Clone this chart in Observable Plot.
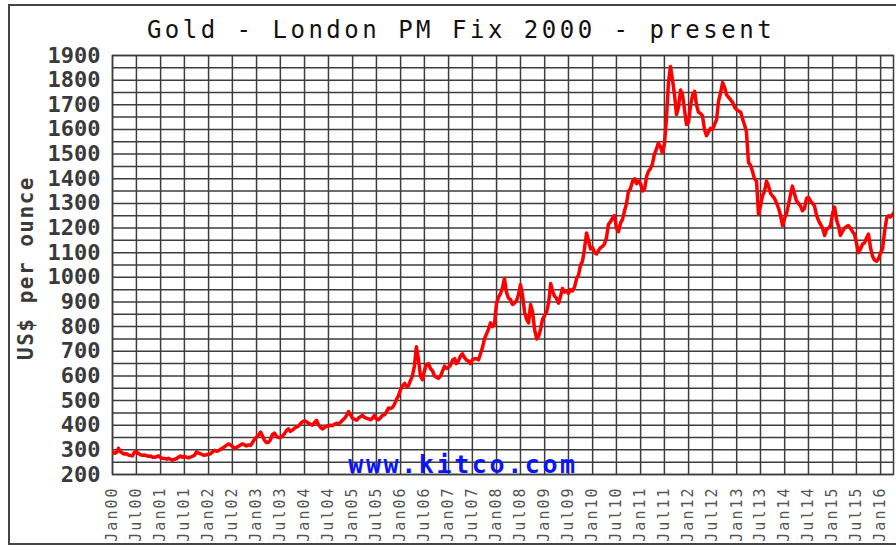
<!DOCTYPE html>
<html><head><meta charset="utf-8">
<script src="https://cdn.jsdelivr.net/npm/d3@7"></script>
<script src="https://cdn.jsdelivr.net/npm/@observablehq/plot@0.6"></script>
<style>
body{margin:0;background:#fff;}
#wrap{position:relative;width:896px;height:545px;overflow:hidden;background:#fff;}
#frame{position:absolute;left:8px;top:4px;width:1000px;height:541px;border:2px solid #444;box-sizing:border-box;pointer-events:none;}
#title{position:absolute;left:0;top:18px;width:922px;text-align:center;font:24px "DejaVu Sans Mono",monospace;letter-spacing:3.5px;line-height:24px;color:#111;white-space:pre;}
#chart{position:absolute;left:0;top:0;width:896px;height:542px;overflow:hidden;}
g[aria-label="y-axis tick label"]{font-family:"DejaVu Sans Mono",monospace;font-weight:bold;font-size:22px;fill:#3a3a3a;}
g[aria-label="x-axis tick label"]{font-family:"DejaVu Sans Mono",monospace;font-size:15px;letter-spacing:2px;fill:#555;}
</style></head>
<body>
<div id="wrap">
  <div id="chart"></div>
  <div id="title">Gold - London PM Fix 2000 - present</div>
  <div id="frame"></div>
</div>
<script>
// Semi-monthly London PM fix values (1st and 16th of each month), US$ per ounce
const p2000 = [292,286,290,306,292,287,283,284,279,277,276,290,294,285,280,278,279,276,274,275,270,270,272,276];
const p2001 = [268,266,265,262,266,262,258,262,264,270,275,270,274,270,268,270,274,278,292,287,284,280,278,280];
const p2002 = [282,284,292,298,294,296,302,306,312,318,324,320,314,306,310,314,320,324,320,316,320,318,330,342];
const p2003 = [352,360,372,355,340,330,330,340,362,368,356,350,350,356,365,378,385,375,380,388,393,396,406,414];
const p2004 = [418,414,408,404,400,410,420,402,392,385,390,396,398,400,398,404,408,405,412,420,428,440,455,442];
const p2005 = [428,424,420,430,434,440,432,428,426,422,428,440,426,422,430,440,442,455,470,468,472,486,505,520];
const p2006 = [545,560,570,556,560,580,600,640,718,670,600,585,620,645,650,630,620,600,595,590,600,620,640,630];
const p2007 = [635,645,665,670,650,660,680,690,675,665,660,650,665,670,670,665,690,715,750,770,790,815,800,810];
const p2008 = [895,920,935,960,995,940,915,910,890,895,905,930,970,930,860,830,815,890,860,790,750,760,790,830];
const p2009 = [845,860,900,975,945,925,915,895,920,955,940,945,935,950,945,960,995,1010,1050,1065,1120,1180,1150,1115];
const p2010 = [1120,1100,1095,1110,1120,1125,1135,1160,1215,1225,1240,1250,1200,1185,1220,1235,1270,1300,1350,1360,1390,1400,1380,1390];
const p2011 = [1380,1350,1360,1410,1430,1440,1460,1500,1520,1545,1530,1505,1540,1640,1790,1855,1800,1740,1660,1690,1760,1740,1680,1620];
const p2012 = [1630,1697,1740,1755,1700,1670,1665,1655,1600,1575,1590,1605,1600,1620,1640,1715,1750,1790,1770,1740,1730,1720,1710,1690];
const p2013 = [1680,1675,1670,1640,1620,1590,1465,1455,1430,1400,1390,1255,1290,1330,1350,1390,1370,1340,1330,1320,1300,1280,1250,1210];
const p2014 = [1240,1260,1300,1340,1370,1340,1310,1300,1290,1270,1280,1320,1325,1310,1300,1290,1250,1230,1215,1200,1170,1195,1200,1210];
const p2015 = [1260,1285,1230,1205,1170,1185,1200,1205,1210,1200,1185,1175,1140,1100,1115,1135,1140,1160,1175,1120,1085,1070,1065,1075];
const p2016 = [1100,1115,1190,1240,1250,1245,1255,1265];

const years = [2000,2001,2002,2003,2004,2005,2006,2007,2008,2009,2010,2011,2012,2013,2014,2015,2016];
const series = [p2000,p2001,p2002,p2003,p2004,p2005,p2006,p2007,p2008,p2009,p2010,p2011,p2012,p2013,p2014,p2015,p2016];

const yTicks = [200,300,400,500,600,700,800,900,1000,1100,1200,1300,1400,1500,1600,1700,1800,1900];
const yGridValues = [200,250,300,350,400,450,500,550,600,650,700,750,800,850,900,950,1000,1050,1100,1150,1200,1250,1300,1350,1400,1450,1500,1550,1600,1650,1700,1750,1800,1850,1900];
const monthNames = ["Jan","Jul"];

const data = [];
years.forEach((yr, k) => {
  series[k].forEach((v, i) => {
    data.push({date: new Date(Date.UTC(yr, Math.floor(i / 2), i % 2 ? 16 : 1)), price: v});
  });
});

const xTicks = d3.utcMonth.every(6).range(new Date(Date.UTC(2000,0,1)), new Date(Date.UTC(2016,0,2)));
const fmtX = d => monthNames[d.getUTCMonth() === 0 ? 0 : 1] + String(d.getUTCFullYear() % 100).padStart(2, "0");

const gridColor = "#3d3d3d";

const chart = Plot.plot({
  width: 896,
  height: 541,
  marginTop: 55,
  marginBottom: 67,
  marginLeft: 112,
  marginRight: 3,
  style: {background: "transparent", overflow: "visible"},
  x: {type: "utc", domain: [new Date(Date.UTC(2000,0,1)), new Date(Date.UTC(2016,3,8))]},
  y: {domain: [200, 1900]},
  marks: [
    Plot.gridY(yGridValues, {stroke: gridColor, strokeOpacity: 1, strokeWidth: 1.5}),
    Plot.gridX(xTicks, {stroke: gridColor, strokeOpacity: 1, strokeWidth: 1.5}),
    Plot.frame({stroke: gridColor, strokeWidth: 1.5}),
    Plot.text(["www.kitco.com"], {
      frameAnchor: "bottom", lineAnchor: "bottom", dx: -40, dy: -2,
      fontFamily: "DejaVu Sans Mono", fontWeight: "bold", fontSize: 25, fill: "#0a14ff"
    }),
    Plot.lineY(data, {x: "date", y: "price", stroke: "#ff0000", strokeWidth: 3.5, clip: true}),
    Plot.axisY(yTicks, {tickSize: 0, tickPadding: 12, tickFormat: d => String(d), label: null}),
    Plot.axisX(xTicks, {tickSize: 0, tickRotate: -90, tickPadding: 12, tickFormat: fmtX, label: null}),
    Plot.text(["US$ per ounce"], {
      frameAnchor: "left", textAnchor: "middle", dx: -86, dy: 3, rotate: -90,
      fontFamily: "DejaVu Sans Mono", fontWeight: "bold", fontSize: 21, fill: "#3a3a3a"
    })
  ]
});
const root = d3.select(chart);
root.selectAll("text").filter(function () { return this.textContent === "www.kitco.com"; }).style("letter-spacing", "2.6px");
root.selectAll("text").filter(function () { return this.textContent === "US$ per ounce"; }).style("letter-spacing", "1.5px");
document.getElementById("chart").appendChild(chart);
</script>
</body></html>
